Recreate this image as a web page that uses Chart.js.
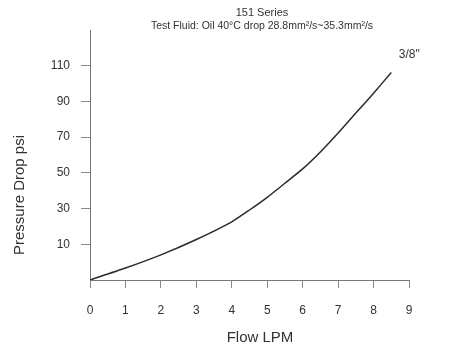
<!DOCTYPE html>
<html>
<head>
<meta charset="utf-8">
<script src="https://cdn.jsdelivr.net/npm/chart.js@4"></script>
<style>
  html, body { margin: 0; padding: 0; background: #fff; }
  #wrap { width: 464px; height: 359px; }
</style>
</head>
<body>
<div id="wrap"><canvas id="canvas"></canvas></div>
<script>
// values
var flow = [0, 1, 2, 3, 4, 4.5, 5, 5.5, 6, 6.5, 7, 7.5, 8, 8.5];
var pressure = [-10, -3.3, 4.1, 12.7, 22.6, 29.2, 36.3, 44.2, 52.2, 61.7, 72.3, 83.5, 94.6, 106.2];
var yTicks = [10, 30, 50, 70, 90, 110];
var seriesName = '3/8"';
var title = '151 Series';
var subtitle = 'Test Fluid: Oil 40\u00b0C drop 28.8mm\u00b2/s~35.3mm\u00b2/s';

var points = flow.map(function(f, i) {
    return { x: f, y: pressure[i] };
});

// titles and the series label, placed around the plot area
var labelsPlugin = {
    id: 'labels',
    afterDraw: function(chart) {
        var c = chart.ctx;
        var area = chart.chartArea;
        c.save();
        c.fillStyle = '#333';
        c.textAlign = 'center';
        c.textBaseline = 'middle';
        c.font = '11px "Liberation Sans", Arial, sans-serif';
        c.fillText(title, area.left + 172, 13);
        c.font = '10.5px "Liberation Sans", Arial, sans-serif';
        c.fillText(subtitle, area.left + 172, 26);

        c.font = '15px "Liberation Sans", Arial, sans-serif';
        c.fillText('Flow LPM', area.left + 170, 338);

        c.save();
        c.translate(20, 255);
        c.rotate(-Math.PI / 2);
        c.textAlign = 'left';
        c.fillText('Pressure Drop psi', 0, 0);
        c.restore();

        var meta = chart.getDatasetMeta(0);
        var last = meta.data[meta.data.length - 1];
        c.font = '12px "Liberation Sans", Arial, sans-serif';
        c.fillText(seriesName, last.x + 18, last.y - 18);
        c.restore();
    }
};

var ctx = document.getElementById('canvas').getContext('2d');
var config = {
    type: 'scatter',
    data: {
        datasets: [{
            label: seriesName,
            data: points,
            showLine: true,
            borderColor: '#2b2b2b',
            borderWidth: 1.5,
            pointRadius: 0,
            tension: 0.2,
            fill: false
        }]
    },
    options: {
        responsive: true,
        maintainAspectRatio: false,
        animation: false,
        layout: { padding: { left: 0, right: 55, top: 30, bottom: 0 } },
        plugins: {
            legend: { display: false },
            tooltip: { enabled: false }
        },
        scales: {
            x: {
                type: 'linear',
                min: 0,
                max: 9,
                afterFit: function(scale) { scale.height = 79; },
                border: { color: '#777', width: 1 },
                grid: {
                    drawOnChartArea: false,
                    drawTicks: true,
                    tickLength: 8,
                    color: '#888'
                },
                ticks: {
                    stepSize: 1,
                    padding: 15,
                    color: '#333',
                    font: { family: '"Liberation Sans", Arial, sans-serif', size: 12 }
                }
            },
            y: {
                type: 'linear',
                min: -10,
                max: 130,
                afterFit: function(scale) { scale.width = 90; },
                afterBuildTicks: function(scale) {
                    scale.ticks = yTicks.map(function(v) { return { value: v }; });
                },
                border: { color: '#777', width: 1 },
                grid: {
                    drawOnChartArea: false,
                    drawTicks: true,
                    tickLength: 9,
                    color: '#888'
                },
                ticks: {
                    padding: 11,
                    color: '#333',
                    font: { family: '"Liberation Sans", Arial, sans-serif', size: 12 }
                }
            }
        }
    },
    plugins: [labelsPlugin]
};

var chart = new Chart(ctx, config);
</script>
</body>
</html>
